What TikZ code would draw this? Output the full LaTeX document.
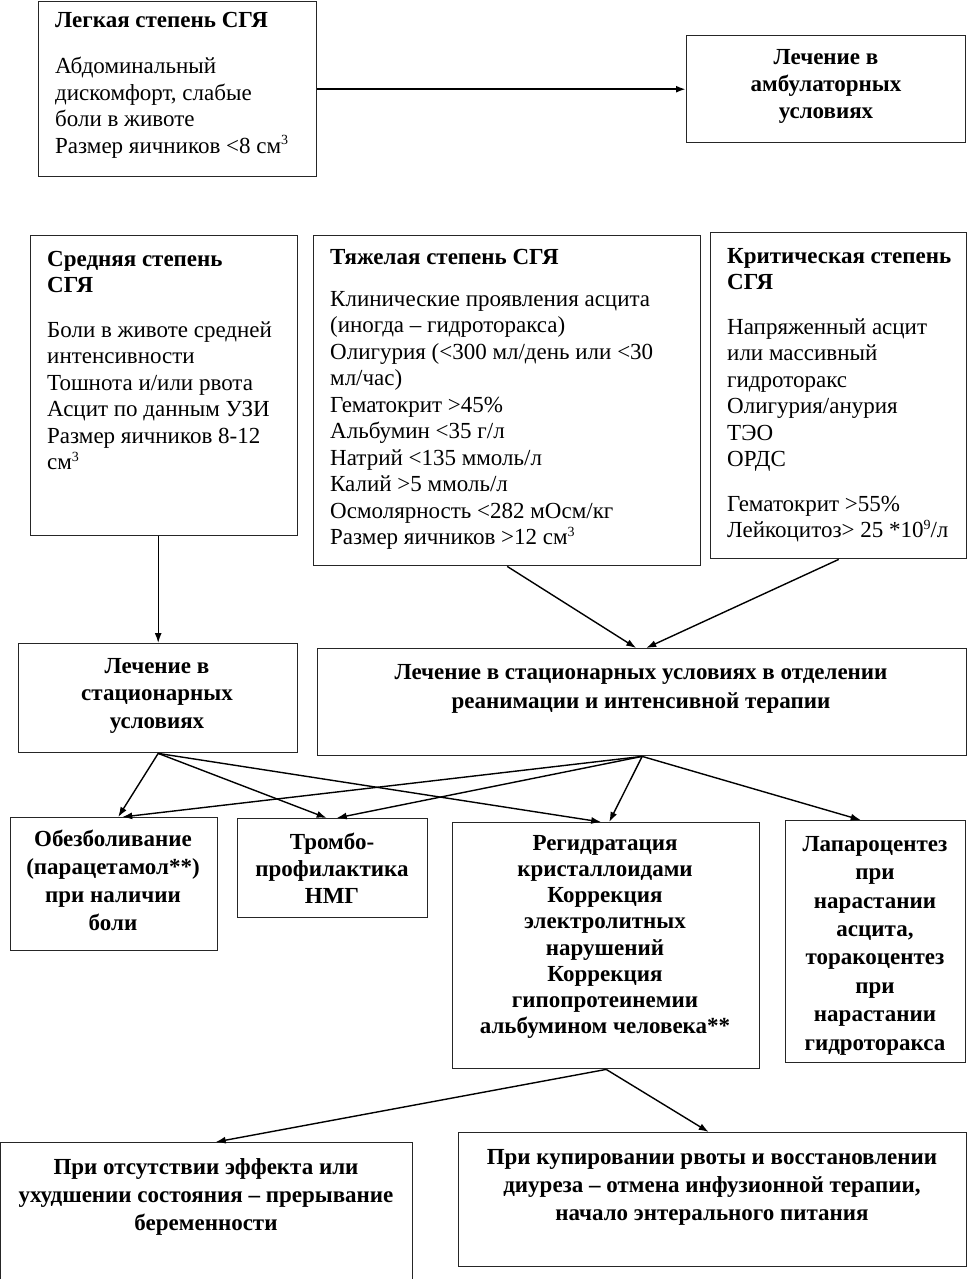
\documentclass[tikz,border=0pt]{standalone}
\usepackage{fontspec}
\setmainfont{Liberation Serif}
\usetikzlibrary{arrows.meta}
\newcommand{\supn}[1]{\raisebox{0.8ex}{\fontsize{14}{14}\selectfont #1}}
\begin{document}
\begin{tikzpicture}[x=1pt,y=-1pt,
  box/.style={draw=black!85, line width=1.4pt, inner sep=0pt, anchor=north west},
  ltxt/.style={inner sep=0pt, font=\fontsize{23}{26.5}\selectfont, align=left, anchor=north west},
  ctxt/.style={inner sep=0pt, font=\fontsize{23}{27.5}\selectfont\bfseries, align=center, anchor=north},
  arr/.style={line width=1.4pt, -{Latex[length=10pt,width=7pt]}}]
\useasboundingbox (0,0) rectangle (969,1279);

% row 1
\node[box, minimum width=278pt, minimum height=175pt] (b1) at (38,1) {};
\node[ltxt] (t1) at (55,12) {\textbf{Легкая степень СГЯ}\\[20pt]
Абдоминальный\\ дискомфорт, слабые\\ боли в животе\\ Размер яичников <8 см\supn{3}};
\node[box, minimum width=279pt, minimum height=107pt] (b2) at (686,35) {};
\node[ctxt, font=\fontsize{23}{27}\selectfont\bfseries] (t2) at (826,49) {Лечение в\\ амбулаторных\\ условиях};

% row 2
\node[box, minimum width=267pt, minimum height=300pt] (b3) at (30,235) {};
\node[ltxt] (t3) at (47,251) {\textbf{Средняя степень}\\ \textbf{СГЯ}\\[18pt]
Боли в животе средней\\ интенсивности\\ Тошнота и/или рвота\\ Асцит по данным УЗИ\\ Размер яичников 8-12\\ см\supn{3}};

\node[box, minimum width=387pt, minimum height=330pt] (b4) at (313,235) {};
\node[ltxt] (t4) at (330,249) {\textbf{Тяжелая степень СГЯ}\\[15.5pt]
Клинические проявления асцита\\ (иногда – гидроторакса)\\ Олигурия (<300 мл/день или <30\\ мл/час)\\
Гематокрит >45\%\\ Альбумин <35 г/л\\ Натрий <135 ммоль/л\\ Калий >5 ммоль/л\\
Осмолярность <282 мОсм/кг\\ Размер яичников >12 см\supn{3}};

\node[box, minimum width=256pt, minimum height=326pt] (b5) at (710,232) {};
\node[ltxt] (t5) at (727,248) {\textbf{Критическая степень}\\ \textbf{СГЯ}\\[18pt]
Напряженный асцит\\ или массивный\\ гидроторакс\\ Олигурия/анурия\\ ТЭО\\ ОРДС\\[18pt]
Гематокрит >55\%\\ Лейкоцитоз> 25 *10\supn{9}/л};

% row 3
\node[box, minimum width=279pt, minimum height=109pt] (stac) at (18,643) {};
\node[ctxt] (tstac) at (157,658) {Лечение в\\ стационарных\\ условиях};
\node[box, minimum width=649pt, minimum height=107pt] (orit) at (317,648) {};
\node[ctxt, font=\fontsize{23}{29}\selectfont\bfseries] (torit) at (641,664) {Лечение в стационарных условиях в отделении\\ реанимации и интенсивной терапии};

% row 4
\node[box, minimum width=207pt, minimum height=133pt] (obez) at (10,817) {};
\node[ctxt, font=\fontsize{23}{28}\selectfont\bfseries] (tobez) at (113,830) {Обезболивание\\ (парацетамол**)\\ при наличии\\ боли};
\node[box, minimum width=190pt, minimum height=99pt] (tromb) at (237,818) {};
\node[ctxt, font=\fontsize{23}{27}\selectfont\bfseries] (ttromb) at (332,833) {Тромбо-\\ профилактика\\ НМГ};
\node[box, minimum width=307pt, minimum height=246pt] (regid) at (452,822) {};
\node[ctxt, font=\fontsize{23}{26.2}\selectfont\bfseries] (tregid) at (605,835) {Регидратация\\ кристаллоидами\\ Коррекция\\ электролитных\\ нарушений\\ Коррекция\\ гипопротеинемии\\ альбумином человека**};
\node[box, minimum width=180pt, minimum height=242pt] (lap) at (785,820) {};
\node[ctxt, font=\fontsize{23}{28.4}\selectfont\bfseries] (tlap) at (875,836) {Лапароцентез\\ при\\ нарастании\\ асцита,\\ торакоцентез\\ при\\ нарастании\\ гидроторакса};

% row 5
\node[box, minimum width=412pt, minimum height=140pt] (abs) at (0,1142) {};
\node[ctxt, font=\fontsize{23}{28}\selectfont\bfseries] (tabs) at (206,1158) {При отсутствии эффекта или\\ ухудшении состояния – прерывание\\ беременности};
\node[box, minimum width=508pt, minimum height=134pt] (kup) at (458,1132) {};
\node[ctxt, font=\fontsize{23}{28}\selectfont\bfseries] (tkup) at (712,1149) {При купировании рвоты и восстановлении\\ диуреза – отмена инфузионной терапии,\\ начало энтерального питания};

% connectors
\draw[arr, line width=2.4pt] (b1.east) -- (b2.west);
\draw[arr] (b3.south -| stac.north) -- (stac.north);
\draw[arr] (b4.south) -- ([xshift=-6pt]orit.north);
\draw[arr] (b5.south) -- ([xshift=4pt]orit.north);

\draw[arr] (stac.south) -- ([xshift=4pt]obez.north);
\draw[arr] (stac.south) -- ([xshift=-6pt]tromb.north);
\draw[arr] (stac.south) -- ([xshift=-5pt]regid.north);
\draw[arr] (orit.south) -- ([xshift=8pt]obez.north);
\draw[arr] (orit.south) -- ([xshift=4pt]tromb.north);
\draw[arr] (orit.south) -- ([xshift=3pt]regid.north);
\draw[arr] (orit.south) -- ([xshift=-15pt]lap.north);

\draw[arr] (regid.south) -- ([xshift=9pt]abs.north);
\draw[arr] (regid.south) -- ([xshift=-4pt]kup.north);
\end{tikzpicture}
\end{document}
